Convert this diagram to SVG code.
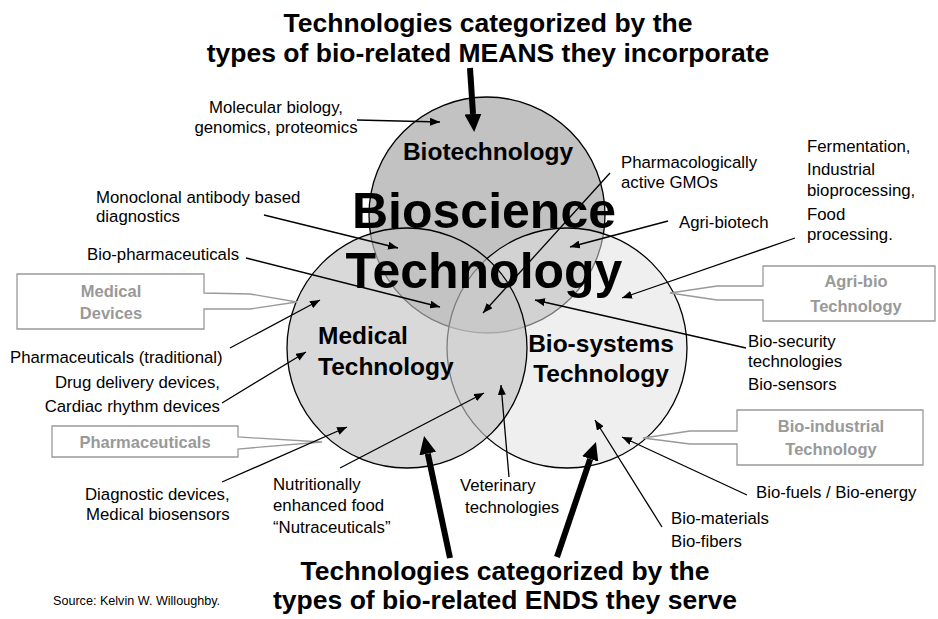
<svg xmlns="http://www.w3.org/2000/svg" width="938" height="619" viewBox="0 0 938 619">
<defs>
<style>
text{font-family:"Liberation Sans",Arial,sans-serif;fill:#000}
.t{font-size:26.5px;font-weight:bold;text-anchor:middle}
.big{font-size:50px;font-weight:bold;text-anchor:middle}
.cl{font-size:24.5px;font-weight:bold}
.s{font-size:16.8px}
.g{font-size:16.5px;font-weight:bold;fill:#999;text-anchor:middle}
.box{fill:#fff;stroke:#999;stroke-width:1.3}
.ln{fill:none;stroke:#000;stroke-width:1.3;marker-end:url(#a)}
.bl{fill:none;stroke:#000;stroke-width:6;marker-end:url(#b)}
.src{font-size:12.6px}
</style>
<marker id="a" viewBox="0 0 10 8" refX="10" refY="4" markerWidth="10" markerHeight="8" orient="auto" markerUnits="userSpaceOnUse"><path d="M0,0L10,4L0,8z" fill="#000"/></marker>
<marker id="b" viewBox="0 0 18 17" refX="0" refY="8.5" markerWidth="18" markerHeight="17" orient="auto" markerUnits="userSpaceOnUse"><path d="M0,0L18,8.5L0,17z" fill="#000"/></marker>
</defs>
<rect width="938" height="619" fill="#fff"/>

<g id="biotech">
<circle cx="487" cy="215" r="118" fill="#c2c2c2" stroke="#000" stroke-width="1.3"/>
</g>
<g id="biosystems">
<circle cx="567" cy="348" r="120" fill="#e0e0e0" fill-opacity="0.52" stroke="#000" stroke-width="1.3"/>
</g>
<g id="medical">
<circle cx="407" cy="348" r="120" fill="#c4c4c4" fill-opacity="0.64" stroke="#000" stroke-width="1.3"/>
</g>

<g id="callout-medical-devices">
<path class="box" d="M17,274H204V293L250,294L297,302L250,309L204,309V329H17Z"/>
<text class="g" x="111" y="297">Medical</text>
<text class="g" x="111" y="319">Devices</text>
</g>
<g id="callout-pharmaceuticals">
<path class="box" d="M52,426H238V437L322,442L238,449V457H52Z"/>
<text class="g" x="145" y="448">Pharmaceuticals</text>
</g>
<g id="callout-agribio">
<path class="box" d="M763,266H935V321H763V300L717,300L670,293L717,286L763,286Z"/>
<text class="g" x="856" y="287">Agri-bio</text>
<text class="g" x="856" y="312">Technology</text>
</g>
<g id="callout-bioindustrial">
<path class="box" d="M737,410H923V465H737V444L690,444L643,438L690,431L737,431Z"/>
<text class="g" x="831" y="432">Bio-industrial</text>
<text class="g" x="831" y="455">Technology</text>
</g>

<g id="connectors">
<line class="ln" x1="357" y1="120" x2="440" y2="122"/>
<line class="ln" x1="264" y1="215" x2="398" y2="248"/>
<line class="ln" x1="246" y1="258" x2="440" y2="307"/>
<line class="ln" x1="610" y1="173" x2="483" y2="313"/>
<line class="ln" x1="668" y1="221" x2="570" y2="247"/>
<line class="ln" x1="795" y1="238" x2="622" y2="298"/>
<line class="ln" x1="746" y1="348" x2="535" y2="300"/>
<line class="ln" x1="230" y1="348" x2="320" y2="300"/>
<line class="ln" x1="222" y1="403" x2="306" y2="352"/>
<line class="ln" x1="222" y1="482" x2="347" y2="427"/>
<line class="ln" x1="340" y1="468" x2="484" y2="393"/>
<line class="ln" x1="509" y1="477" x2="501" y2="385"/>
<line class="ln" x1="662" y1="527" x2="595" y2="420"/>
<line class="ln" x1="747" y1="495" x2="622" y2="437"/>
<line class="bl" x1="470" y1="68" x2="473" y2="114"/>
<line class="bl" x1="450" y1="558" x2="427.8" y2="453.6"/>
<line class="bl" x1="557" y1="557" x2="590.2" y2="459"/>
</g>

<g id="circle-labels">
<text class="cl" x="488" y="160" text-anchor="middle">Biotechnology</text>
<text class="cl" x="318" y="344">Medical</text>
<text class="cl" x="318" y="375">Technology</text>
<text class="cl" x="601" y="352" text-anchor="middle">Bio-systems</text>
<text class="cl" x="601" y="382" text-anchor="middle">Technology</text>
</g>
<g id="center-title">
<text class="big" x="484" y="228">Bioscience</text>
<text class="big" x="484" y="288">Technology</text>
</g>

<g id="labels">
<text class="s" x="276" y="113" text-anchor="middle">Molecular biology,</text>
<text class="s" x="276" y="133" text-anchor="middle">genomics, proteomics</text>
<text class="s" x="96" y="203">Monoclonal antibody based</text>
<text class="s" x="96" y="222">diagnostics</text>
<text class="s" x="87" y="260">Bio-pharmaceuticals</text>
<text class="s" x="621" y="168">Pharmacologically</text>
<text class="s" x="621" y="188">active GMOs</text>
<text class="s" x="679" y="228">Agri-biotech</text>
<text class="s" x="807" y="152">Fermentation,</text>
<text class="s" x="807" y="175">Industrial</text>
<text class="s" x="807" y="196">bioprocessing,</text>
<text class="s" x="807" y="220">Food</text>
<text class="s" x="807" y="240">processing.</text>
<text class="s" x="748" y="347">Bio-security</text>
<text class="s" x="748" y="367">technologies</text>
<text class="s" x="748" y="390">Bio-sensors</text>
<text class="s" x="10" y="363">Pharmaceuticals (traditional)</text>
<text class="s" x="220" y="388" text-anchor="end">Drug delivery devices,</text>
<text class="s" x="220" y="412" text-anchor="end">Cardiac rhythm devices</text>
<text class="s" x="85" y="500">Diagnostic devices,</text>
<text class="s" x="86" y="520">Medical biosensors</text>
<text class="s" x="273" y="490">Nutritionally</text>
<text class="s" x="273" y="511">enhanced food</text>
<text class="s" x="273" y="533">“Nutraceuticals”</text>
<text class="s" x="460" y="491">Veterinary</text>
<text class="s" x="465" y="513">technologies</text>
<text class="s" x="671" y="524">Bio-materials</text>
<text class="s" x="671" y="547">Bio-fibers</text>
<text class="s" x="756" y="498">Bio-fuels / Bio-energy</text>
<text class="src" x="53" y="605">Source: Kelvin W. Willoughby.</text>
</g>

<g id="titles">
<text class="t" x="488" y="32">Technologies categorized by the</text>
<text class="t" x="488" y="62">types of bio-related MEANS they incorporate</text>
<text class="t" x="505" y="580">Technologies categorized by the</text>
<text class="t" x="505" y="609">types of bio-related ENDS they serve</text>
</g>
</svg>
